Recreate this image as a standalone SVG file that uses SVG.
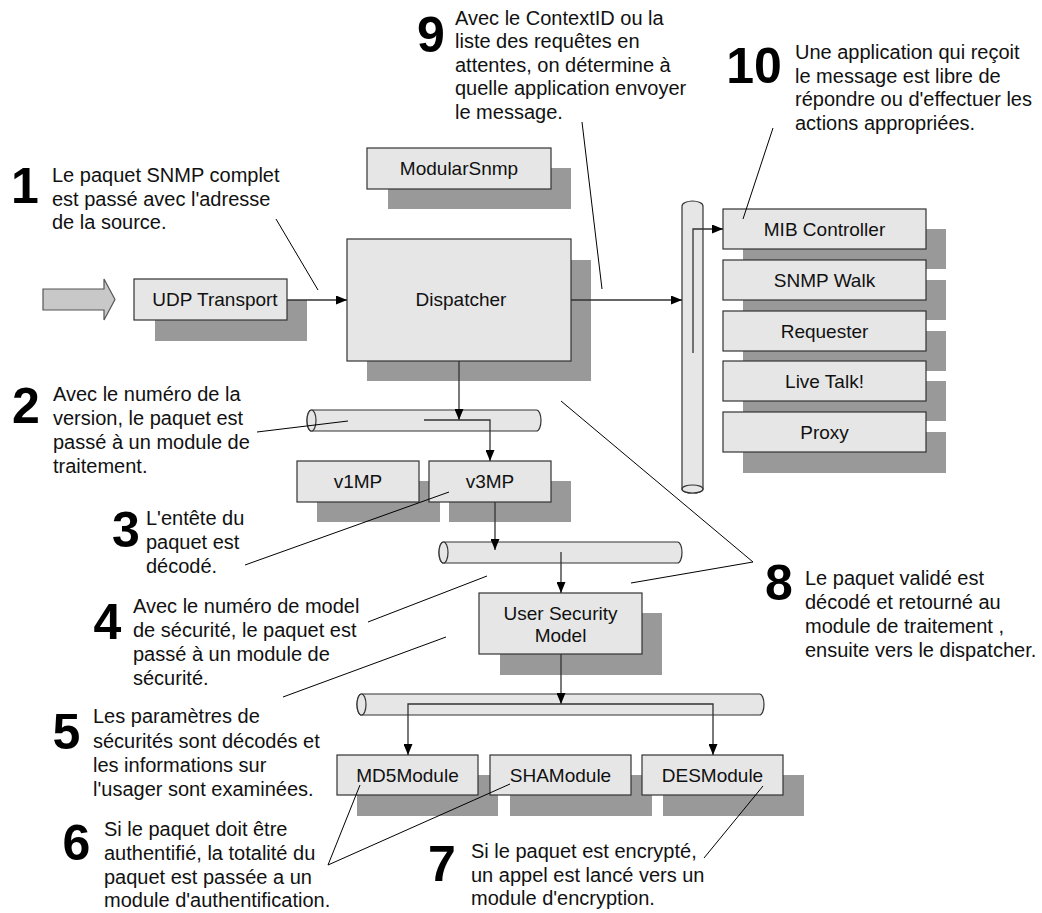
<svg xmlns="http://www.w3.org/2000/svg" width="1042" height="913" viewBox="0 0 1042 913">
<defs>
<marker id="ah" markerUnits="userSpaceOnUse" markerWidth="11" markerHeight="9" refX="11" refY="4.5" orient="auto">
<path d="M0,0 L11,4.5 L0,9 Z" fill="#000"/>
</marker>
</defs>
<style>
.box{fill:#e6e6e6;stroke:#333;stroke-width:1.2}
.sh{fill:#999}
.bus{fill:#e6e6e6;stroke:#333;stroke-width:1.2}
.nt{font-family:"Liberation Sans",Arial,sans-serif;font-size:19px;fill:#111;text-anchor:middle}
.at{font-family:"Liberation Sans",Arial,sans-serif;font-size:20px;fill:#111}
.num{font-family:"Liberation Sans",Arial,sans-serif;font-size:50px;font-weight:bold;fill:#000;text-anchor:middle}
.con{fill:none;stroke:#333;stroke-width:1.3}
.ld{fill:none;stroke:#000;stroke-width:1}
</style>
<rect width="1042" height="913" fill="#fff"/>

<!-- shadows -->
<g id="shadows">
<rect class="sh" x="155" y="300" width="152" height="41"/>
<rect class="sh" x="388" y="168" width="183" height="41"/>
<rect class="sh" x="367" y="260" width="224" height="121"/>
<rect class="sh" x="743" y="229" width="203" height="40"/>
<rect class="sh" x="743" y="280" width="203" height="40"/>
<rect class="sh" x="743" y="331" width="203" height="40"/>
<rect class="sh" x="743" y="381" width="203" height="40"/>
<rect class="sh" x="743" y="432" width="203" height="41"/>
<rect class="sh" x="317" y="481" width="123" height="41"/>
<rect class="sh" x="449" y="481" width="122" height="41"/>
<rect class="sh" x="500" y="613" width="162" height="62"/>
<rect class="sh" x="357" y="775" width="141" height="41"/>
<rect class="sh" x="510" y="775" width="142" height="41"/>
<rect class="sh" x="663" y="775" width="141" height="41"/>
</g>

<g id="input-arrow">
<polygon points="43,289 104,289 104,279 115,299.5 104,320 104,310 43,310" fill="#c8c8c8" stroke="#555" stroke-width="1.2"/>
</g>

<g id="udp"><rect class="box" x="134" y="279" width="153" height="41"/><text class="nt" x="215" y="306">UDP Transport</text></g>
<g id="modularsnmp"><rect class="box" x="367" y="148" width="184" height="41"/><text class="nt" x="459" y="175">ModularSnmp</text></g>
<g id="dispatcher"><rect class="box" x="347" y="239" width="224" height="122"/><text class="nt" x="461" y="306">Dispatcher</text></g>

<g id="app-bus">
<path class="bus" d="M682,206 A10.5,5 0 0 1 703,206 V489 A10.5,4 0 0 1 682,489 Z"/>
<ellipse class="bus" cx="692.5" cy="489" rx="10.5" ry="4"/>
</g>
<g id="mib"><rect class="box" x="723" y="209" width="203" height="40"/><text class="nt" x="824.5" y="236">MIB Controller</text></g>
<g id="walk"><rect class="box" x="723" y="260" width="203" height="40"/><text class="nt" x="824.5" y="287">SNMP Walk</text></g>
<g id="requester"><rect class="box" x="723" y="311" width="203" height="40"/><text class="nt" x="824.5" y="338">Requester</text></g>
<g id="livetalk"><rect class="box" x="723" y="361" width="203" height="40"/><text class="nt" x="824.5" y="388">Live Talk!</text></g>
<g id="proxy"><rect class="box" x="723" y="412" width="203" height="40"/><text class="nt" x="824.5" y="439">Proxy</text></g>

<g id="mp-bus">
<path class="bus" d="M311.5,410 H536.5 A4.5,10.5 0 0 1 536.5,431 H311.5 A4.5,10.5 0 0 1 311.5,410 Z"/>
<ellipse class="bus" cx="311.5" cy="420.5" rx="4.5" ry="10.5"/>
</g>
<g id="v1mp"><rect class="box" x="297" y="461" width="122" height="41"/><text class="nt" x="358" y="488">v1MP</text></g>
<g id="v3mp"><rect class="box" x="429" y="461" width="122" height="41"/><text class="nt" x="490" y="488">v3MP</text></g>

<g id="sec-bus">
<path class="bus" d="M443.5,542 H677.5 A4.5,10.5 0 0 1 677.5,563 H443.5 A4.5,10.5 0 0 1 443.5,542 Z"/>
<ellipse class="bus" cx="443.5" cy="552.5" rx="4.5" ry="10.5"/>
</g>
<g id="usm"><rect class="box" x="479" y="593" width="163" height="61"/><text class="nt" x="560.5" y="620">User Security</text><text class="nt" x="560.5" y="642">Model</text></g>

<g id="mod-bus">
<path class="bus" d="M361.5,694 H759.5 A4.5,10.5 0 0 1 759.5,715 H361.5 A4.5,10.5 0 0 1 361.5,694 Z"/>
<ellipse class="bus" cx="361.5" cy="704.5" rx="4.5" ry="10.5"/>
</g>
<g id="md5"><rect class="box" x="337" y="755" width="141" height="40"/><text class="nt" x="407.5" y="782">MD5Module</text></g>
<g id="sha"><rect class="box" x="490" y="755" width="141" height="40"/><text class="nt" x="560.5" y="782">SHAModule</text></g>
<g id="des"><rect class="box" x="642" y="755" width="141" height="40"/><text class="nt" x="712.5" y="782">DESModule</text></g>

<g id="connectors">
<line class="con" x1="287" y1="300" x2="347" y2="300" marker-end="url(#ah)"/>
<line class="con" x1="571" y1="300" x2="682" y2="300" marker-end="url(#ah)"/>
<polyline class="con" points="693,353 693,229 723,229" marker-end="url(#ah)"/>
<line class="con" x1="459" y1="361" x2="459" y2="420" marker-end="url(#ah)"/>
<polyline class="con" points="424,420 490,420 490,461" marker-end="url(#ah)"/>
<line class="con" x1="495" y1="502" x2="495" y2="550" marker-end="url(#ah)"/>
<line class="con" x1="561" y1="552" x2="561" y2="593" marker-end="url(#ah)"/>
<line class="con" x1="561" y1="654" x2="561" y2="704" marker-end="url(#ah)"/>
<polyline class="con" points="561,704 408,704 408,755" marker-end="url(#ah)"/>
<polyline class="con" points="561,704 713,704 713,755" marker-end="url(#ah)"/>
</g>

<g id="leaders">
<line class="ld" x1="276" y1="219" x2="318" y2="290"/>
<line class="ld" x1="257" y1="432" x2="348" y2="421"/>
<line class="ld" x1="449" y1="492" x2="245" y2="565"/>
<line class="ld" x1="368" y1="622" x2="487" y2="576"/>
<line class="ld" x1="283" y1="697" x2="446" y2="637"/>
<polyline class="ld" points="360,785 328,865 510,784"/>
<line class="ld" x1="763" y1="786" x2="704" y2="858"/>
<polyline class="ld" points="561,401 753,562 631,583"/>
<line class="ld" x1="582" y1="122" x2="602" y2="289"/>
<line class="ld" x1="773" y1="128" x2="743" y2="219"/>
</g>

<g id="note1"><text class="num" x="25" y="203">1</text>
<text class="at" x="52"><tspan x="52" y="182">Le paquet SNMP complet</tspan><tspan x="52" y="205.5">est passé avec l'adresse</tspan><tspan x="52" y="229">de la source.</tspan></text></g>
<g id="note2"><text class="num" x="26" y="423">2</text>
<text class="at"><tspan x="53" y="401">Avec le numéro de la</tspan><tspan x="53" y="425">version, le paquet est</tspan><tspan x="53" y="449">passé à un module de</tspan><tspan x="53" y="473">traitement.</tspan></text></g>
<g id="note3"><text class="num" x="126" y="547">3</text>
<text class="at"><tspan x="146" y="525">L'entête du</tspan><tspan x="146" y="549">paquet est</tspan><tspan x="146" y="573">décodé.</tspan></text></g>
<g id="note4"><text class="num" x="107.5" y="639">4</text>
<text class="at"><tspan x="133" y="613">Avec le numéro de model</tspan><tspan x="133" y="637">de sécurité, le paquet est</tspan><tspan x="133" y="661">passé à un module de</tspan><tspan x="133" y="685">sécurité.</tspan></text></g>
<g id="note5"><text class="num" x="66.5" y="749">5</text>
<text class="at"><tspan x="93" y="723">Les paramètres de</tspan><tspan x="93" y="747.5">sécurités sont décodés et</tspan><tspan x="93" y="772">les informations sur</tspan><tspan x="93" y="796">l'usager sont examinées.</tspan></text></g>
<g id="note6"><text class="num" x="76.5" y="860">6</text>
<text class="at"><tspan x="104" y="836">Si le paquet doit être</tspan><tspan x="104" y="860">authentifié, la totalité du</tspan><tspan x="104" y="883.5">paquet est passée a un</tspan><tspan x="104" y="907">module d'authentification.</tspan></text></g>
<g id="note7"><text class="num" x="442" y="881">7</text>
<text class="at"><tspan x="471" y="858">Si le paquet est encrypté,</tspan><tspan x="471" y="881.5">un appel est lancé vers un</tspan><tspan x="471" y="905">module d'encryption.</tspan></text></g>
<g id="note8"><text class="num" x="779" y="600">8</text>
<text class="at"><tspan x="805" y="585">Le paquet validé est</tspan><tspan x="805" y="609">décodé et retourné au</tspan><tspan x="805" y="633">module de traitement ,</tspan><tspan x="805" y="657">ensuite vers le dispatcher.</tspan></text></g>
<g id="note9"><text class="num" x="431" y="52">9</text>
<text class="at"><tspan x="455" y="24.5">Avec le ContextID ou la</tspan><tspan x="455" y="48">liste des requêtes en</tspan><tspan x="455" y="71.5">attentes, on détermine à</tspan><tspan x="455" y="95">quelle application envoyer</tspan><tspan x="455" y="118.5">le message.</tspan></text></g>
<g id="note10"><text class="num" x="754" y="83">10</text>
<text class="at"><tspan x="795" y="59">Une application qui reçoit</tspan><tspan x="795" y="82.5">le message est libre de</tspan><tspan x="795" y="106">répondre ou d'effectuer les</tspan><tspan x="795" y="129.5">actions appropriées.</tspan></text></g>
</svg>
